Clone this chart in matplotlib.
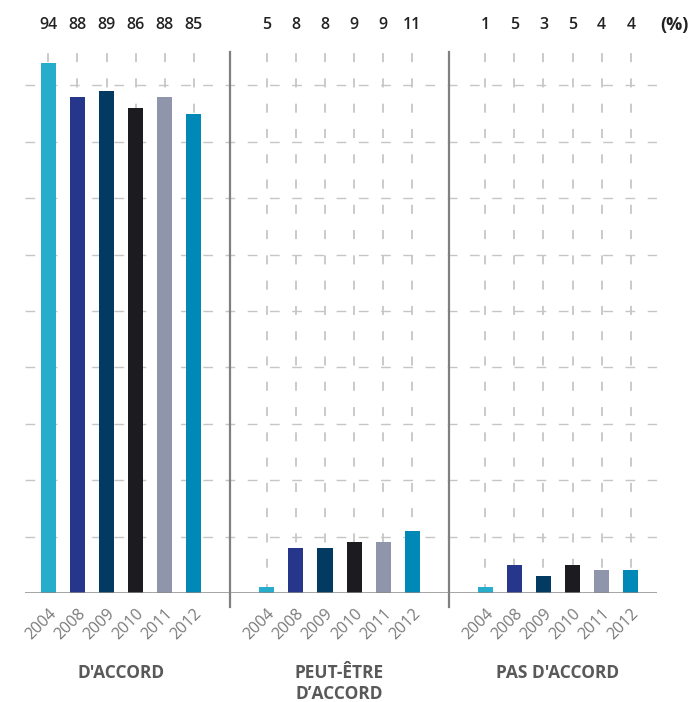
import numpy as np
from matplotlib import pyplot as plt

plt.rcParams['font.family'] = ['Open Sans', 'DejaVu Sans']

years = ['2004', '2008', '2009', '2010', '2011', '2012']
groups = ["D'ACCORD", "PEUT-ÊTRE\nD’ACCORD", "PAS D'ACCORD"]
# bar heights as drawn in the picture
d_accord = [94, 88, 89, 86, 88, 85]
peut_etre = [1, 8, 8, 9, 9, 11]
pas_accord = [1, 5, 3, 5, 4, 4]
# printed labels above the columns
d_accord_lbl = ['94', '88', '89', '86', '88', '85']
peut_etre_lbl = ['5', '8', '8', '9', '9', '11']
pas_accord_lbl = ['1', '5', '3', '5', '4', '4']
colors = ['#25adcb', '#26378b', '#023a62', '#1b1b20', '#8f96ab', '#0089b7']

series = [d_accord, peut_etre, pas_accord]
labels = [d_accord_lbl, peut_etre_lbl, pas_accord_lbl]
offsets = [0, 7.5, 15]

fig = plt.figure(figsize=(6.93, 7.02), dpi=100)
ax = fig.add_axes([25 / 693, 109 / 702, 632 / 693, 564 / 702])
ax.set_xlim(-0.8, 20.9)
ax.set_ylim(0, 100)

grid_col = '#c6c6c6'
# horizontal dashed grid
for yv in range(10, 100, 10):
    ax.plot([-0.8, 20.9], [yv, yv], color=grid_col, lw=1, ls=(0, (7, 9)), zorder=0)

xs_all = []
for g, vals in enumerate(series):
    xs = np.arange(6) + offsets[g]
    xs_all.extend(xs)
    ax.vlines(xs, 0, 97.5, colors=grid_col, lw=1.3, linestyles=(0, (5, 9)), zorder=0)
    ax.bar(xs, vals, width=0.52, color=colors, zorder=2)
    for x, t in zip(xs, labels[g]):
        ax.text(x, 100.7, t, ha='center', va='center', fontsize=11.5,
                fontweight='semibold', color='#222222', clip_on=False)
    ax.text(offsets[g] + 2.5, -12.6, groups[g], ha='center', va='top',
            fontsize=12.5, fontweight='bold', color='#595959', linespacing=1.2)

ax.text(21.5, 100.7, '(%)', ha='center', va='center', fontsize=13,
        fontweight='bold', color='#222222', clip_on=False)

# separators between groups
for sx in [6.25, 13.75]:
    ax.plot([sx, sx], [-2.5, 96], color='#808080', lw=1.6, clip_on=False, zorder=3)

ax.axhline(0, color='#8a8a8a', lw=1.8, zorder=3)

for s in ax.spines.values():
    s.set_visible(False)
ax.set_yticks([])
ax.set_xticks(xs_all)
ax.set_xticklabels(years * 3, rotation=45, ha='right', rotation_mode='anchor',
                   fontsize=11.5, color='#7a7a7a')
ax.tick_params(axis='x', length=0, pad=9)

plt.savefig('out.png', dpi=100)
